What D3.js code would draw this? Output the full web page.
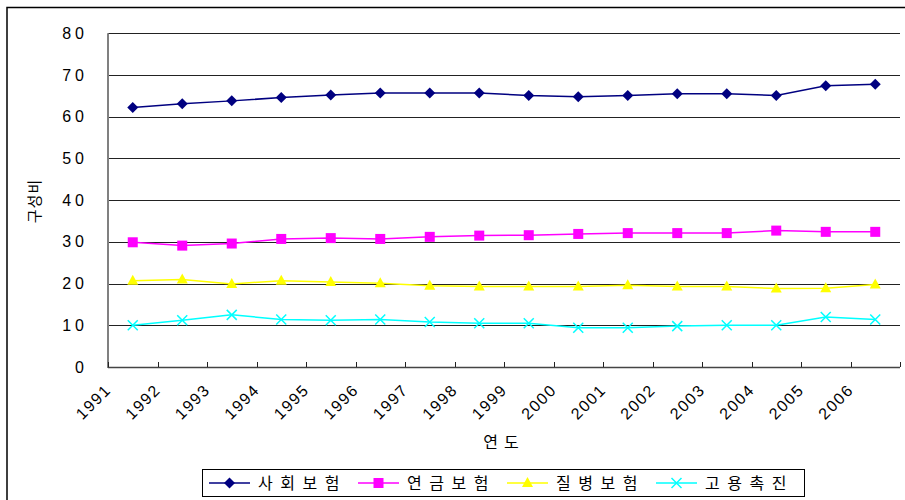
<!DOCTYPE html>
<html><head><meta charset="utf-8">
<script src="https://cdn.jsdelivr.net/npm/d3@7"></script>
<style>body{margin:0;background:#fff;} svg{display:block;}</style>
</head><body>
<svg id="c" width="905" height="500"></svg>
<script>
const years = ["1991","1992","1993","1994","1995","1996","1997","1998","1999","2000","2001","2002","2003","2004","2005","2006"];
const socialIns = [62.2,63.1,63.8,64.6,65.2,65.7,65.7,65.7,65.1,64.8,65.1,65.5,65.5,65.1,67.4,67.8];
const pensionIns = [29.9,29.1,29.6,30.7,30.9,30.7,31.2,31.5,31.6,31.9,32.1,32.1,32.1,32.7,32.4,32.4];
const diseaseIns = [20.7,21.0,19.9,20.7,20.4,20.1,19.5,19.3,19.3,19.3,19.6,19.3,19.3,18.8,18.9,19.8];
const employProm = [10.0,11.2,12.5,11.4,11.2,11.4,10.8,10.5,10.5,9.4,9.4,9.8,10.0,10.0,12.0,11.4];
const seriesNames = ["사회보험","연금보험","질병보험","고용촉진"];
const yTicks = [0,10,20,30,40,50,60,70,80];
const xTitle = "연도";
const yTitle = "구성비";

const svg = d3.select("#c");
const L = 108, R = 900, T = 33.3, B = 367;
const x = d3.scaleBand().domain(years).range([L, R]);
const y = d3.scaleLinear().domain([0, 80]).range([B, T]);

// outer frame
svg.append("rect").attr("x", 7).attr("y", 7.5).attr("width", 920).attr("height", 520)
  .attr("fill", "none").attr("stroke", "#000").attr("stroke-width", 1.5);

// gridlines
svg.append("g").selectAll("line").data(yTicks.filter(d => d > 0)).join("line")
  .attr("x1", L).attr("x2", R)
  .attr("y1", d => Math.round(y(d)) + 0.5).attr("y2", d => Math.round(y(d)) + 0.5)
  .attr("stroke", "#222").attr("stroke-width", 1);

// y axis
const yAxis = d3.axisLeft(y).tickValues(yTicks).tickSize(0).tickPadding(24).tickFormat(d3.format("d"));
const gy = svg.append("g").attr("transform", `translate(${L},0)`).call(yAxis);
gy.select(".domain").remove();
gy.selectAll("text").attr("font-family", "'Liberation Sans', Arial, sans-serif")
  .attr("font-size", 16).attr("fill", "#000").attr("letter-spacing", "4px").attr("dx", "4px");
svg.append("line").attr("x1", L).attr("x2", L).attr("y1", T).attr("y2", B + 1)
  .attr("stroke", "#808080").attr("stroke-width", 2);

// x axis
const tickPos = years.map(d => x(d)).concat([R]);
svg.append("line").attr("x1", L).attr("x2", R).attr("y1", B + 0.5).attr("y2", B + 0.5)
  .attr("stroke", "#444").attr("stroke-width", 1.5);
svg.append("g").selectAll("line").data(tickPos).join("line")
  .attr("x1", d => Math.round(d) + 0.5).attr("x2", d => Math.round(d) + 0.5)
  .attr("y1", B - 5).attr("y2", B)
  .attr("stroke", "#222").attr("stroke-width", 1);
svg.append("g").selectAll("text").data(years).join("text")
  .attr("transform", d => `translate(${x(d) + 4},${B + 24}) rotate(-45)`)
  .attr("text-anchor", "end")
  .attr("font-family", "'Liberation Sans', Arial, sans-serif")
  .attr("font-size", 16).attr("letter-spacing", "1.5px").attr("fill", "#000")
  .text(d => d);

// titles
svg.append("text").attr("x", (L + R) / 2).attr("y", 448).attr("text-anchor", "middle")
  .attr("font-family", "'Noto Sans CJK KR', sans-serif").attr("font-size", 16)
  .attr("letter-spacing", "6px").text(xTitle);
svg.append("text").attr("transform", "translate(40,201) rotate(-90)").attr("text-anchor", "middle")
  .attr("font-family", "'Noto Sans CJK KR', sans-serif").attr("font-size", 15)
  .attr("letter-spacing", "1px").text(yTitle);

// series
const colors = ["#000080", "#FF00FF", "#FFFF00", "#00FFFF"];
const data = [socialIns, pensionIns, diseaseIns, employProm];
const shapes = ["diamond", "square", "triangle", "x"];
function marker(g, shape, color) {
  if (shape === "diamond") g.append("path").attr("d", "M0,-5.5L5.5,0L0,5.5L-5.5,0Z").attr("fill", color);
  else if (shape === "square") g.append("rect").attr("x", -5).attr("y", -5).attr("width", 10).attr("height", 10).attr("fill", color);
  else if (shape === "triangle") g.append("path").attr("d", "M0,-6L5.5,4L-5.5,4Z").attr("fill", color);
  else g.append("path").attr("d", "M-5,-5L5,5M-5,5L5,-5").attr("stroke", color).attr("stroke-width", 1.5).attr("fill", "none");
}
const line = d3.line().x((d, i) => x(years[i]) + x.bandwidth() / 2).y(d => y(d));
data.forEach((vals, si) => {
  const g = svg.append("g");
  g.append("path").datum(vals).attr("d", line).attr("fill", "none")
    .attr("stroke", colors[si]).attr("stroke-width", 1.5);
  vals.forEach((v, i) => {
    const m = g.append("g").attr("transform", `translate(${x(years[i]) + x.bandwidth() / 2},${y(v)})`);
    marker(m, shapes[si], colors[si]);
  });
});

// legend
const lg = svg.append("g");
lg.append("rect").attr("x", 202.5).attr("y", 469.5).attr("width", 602).attr("height", 27)
  .attr("fill", "#fff").attr("stroke", "#000").attr("stroke-width", 1);
const legX = [209, 358, 507, 656];
seriesNames.forEach((n, si) => {
  const g = lg.append("g").attr("transform", `translate(${legX[si]},483)`);
  g.append("line").attr("x1", 0).attr("x2", 41).attr("stroke", colors[si]).attr("stroke-width", 1.5);
  const m = g.append("g").attr("transform", "translate(20.5,0)");
  marker(m, shapes[si], colors[si]);
  g.append("text").attr("x", 49).attr("y", 5.5)
    .attr("font-family", "'Noto Sans CJK KR', sans-serif").attr("font-size", 16)
    .attr("letter-spacing", "7.5px").text(n);
});
</script>
</body></html>
